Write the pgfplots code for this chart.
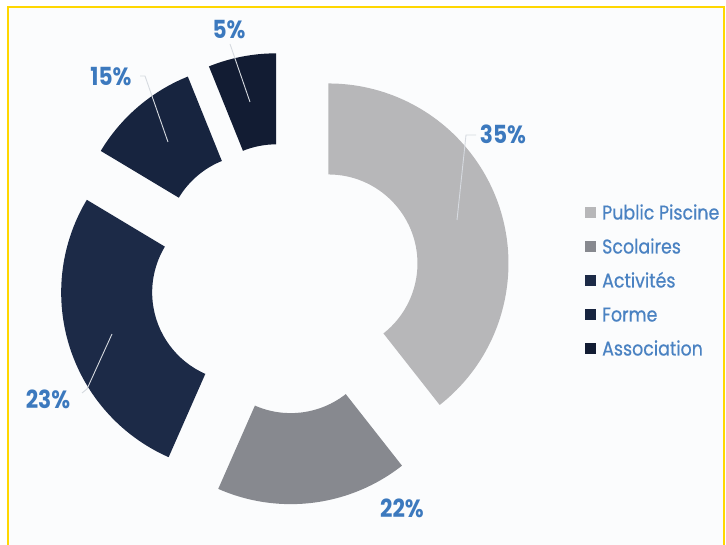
\documentclass[border=0pt]{standalone}
\usepackage{pgfplots}
\pgfplotsset{compat=1.18}
\usepackage{pgfplotstable}
\usepackage{fontspec}
\setmainfont{Poppins}
\newfontfamily\legfont{Poppins}[FakeBold=0.6]
\usetikzlibrary{calc}

\definecolor{sliceA}{HTML}{B7B7B9}
\definecolor{sliceB}{HTML}{87898F}
\definecolor{sliceC}{HTML}{1C2A47}
\definecolor{sliceD}{HTML}{17243F}
\definecolor{sliceE}{HTML}{121C33}
\definecolor{labblue}{HTML}{3C79BE}
\definecolor{legblue}{HTML}{4A82C2}
\definecolor{leader}{HTML}{D6DAE0}
\definecolor{frame}{HTML}{FFD700}
\definecolor{bg}{HTML}{FBFCFD}

% share = part of the ring actually drawn (%), label = number printed on the slice
\pgfplotstableread{
share label
39.4 35
17.2 22
27.0 23
10.3 15
6.1  5
}\slices

\begin{document}
\begin{tikzpicture}
% angles, clockwise from 12 o'clock
\def\acc{90}
\foreach \i/\n in {0/a,1/b,2/c,3/d,4/e}{
  \pgfplotstablegetelem{\i}{share}\of\slices
  \pgfmathsetmacro\hi{\acc}
  \pgfmathsetmacro\lo{\acc-3.6*\pgfplotsretval}
  \pgfmathsetmacro\mi{(\lo+\hi)/2}
  \expandafter\xdef\csname angS\n\endcsname{\lo}
  \expandafter\xdef\csname angE\n\endcsname{\hi}
  \expandafter\xdef\csname angM\n\endcsname{\mi}
  \pgfplotstablegetelem{\i}{label}\of\slices
  \expandafter\xdef\csname lab\n\endcsname{\pgfplotsretval}
  \xdef\acc{\lo}
}

\begin{axis}[
    width=726bp, height=545bp, scale only axis,
    xmin=0, xmax=726, ymin=0, ymax=545,
    hide axis
]
\fill[white] (axis cs:0,0) rectangle (axis cs:726,545);
\fill[bg] (axis cs:8,0) rectangle (axis cs:724,538);
\coordinate (O) at (axis cs:285,266.5);

% exploded doughnut, R=180, r=89, offset 46
\fill[sliceA] ($(O)+(\angMa:46bp)+(\angSa:180bp)$) arc[start angle=\angSa, end angle=\angEa, radius=180bp]
  -- ($(O)+(\angMa:46bp)+(\angEa:89bp)$) arc[start angle=\angEa, end angle=\angSa, radius=89bp] -- cycle;
\fill[sliceB] ($(O)+(\angMb:46bp)+(\angSb:180bp)$) arc[start angle=\angSb, end angle=\angEb, radius=180bp]
  -- ($(O)+(\angMb:46bp)+(\angEb:89bp)$) arc[start angle=\angEb, end angle=\angSb, radius=89bp] -- cycle;
\fill[sliceC] ($(O)+(\angMc:46bp)+(\angSc:180bp)$) arc[start angle=\angSc, end angle=\angEc, radius=180bp]
  -- ($(O)+(\angMc:46bp)+(\angEc:89bp)$) arc[start angle=\angEc, end angle=\angSc, radius=89bp] -- cycle;
\fill[sliceD] ($(O)+(\angMd:46bp)+(\angSd:180bp)$) arc[start angle=\angSd, end angle=\angEd, radius=180bp]
  -- ($(O)+(\angMd:46bp)+(\angEd:89bp)$) arc[start angle=\angEd, end angle=\angSd, radius=89bp] -- cycle;
\fill[sliceE] ($(O)+(\angMe:46bp)+(\angSe:180bp)$) arc[start angle=\angSe, end angle=\angEe, radius=180bp]
  -- ($(O)+(\angMe:46bp)+(\angEe:89bp)$) arc[start angle=\angEe, end angle=\angSe, radius=89bp] -- cycle;

% leader lines
\draw[leader, line width=0.9bp] (axis cs:457,325) -- (axis cs:466,410) -- (axis cs:476,410);
\draw[leader, line width=0.9bp] (axis cs:112,211) -- (axis cs:87,156) -- (axis cs:82,152);
\draw[leader, line width=0.9bp] (axis cs:168,403) -- (axis cs:145,469) -- (axis cs:140,469);
\draw[leader, line width=0.9bp] (axis cs:250,443) -- (axis cs:230,501);

% data labels
\tikzset{lab/.style={text=labblue, font=\bfseries\fontsize{25}{30}\selectfont, xscale=0.87, inner sep=0pt}}
\node[lab] at (axis cs:503,411) {\laba\%};
\node[lab] at (axis cs:402,37) {\labb\%};
\node[lab] at (axis cs:48,146) {\labc\%};
\node[lab] at (axis cs:111,468) {\labd\%};
\node[lab] at (axis cs:229,515) {\labe\%};

% legend
\tikzset{leg/.style={text=legblue, font=\legfont\fontsize{20}{24}\selectfont, xscale=0.875, inner sep=0pt, anchor=base west}}
\fill[sliceA] (axis cs:585,327.25) rectangle (axis cs:595.5,337.75);
\fill[sliceB] (axis cs:585,293.25) rectangle (axis cs:595.5,303.75);
\fill[sliceC] (axis cs:585,259.25) rectangle (axis cs:595.5,269.75);
\fill[sliceD] (axis cs:585,225.25) rectangle (axis cs:595.5,235.75);
\fill[sliceE] (axis cs:585,191.25) rectangle (axis cs:595.5,201.75);
\node[leg] at (axis cs:602,325.5) {Public Piscine};
\node[leg] at (axis cs:602,291.5) {Scolaires};
\node[leg] at (axis cs:602,257.5) {Activités};
\node[leg] at (axis cs:602,223.5) {Forme};
\node[leg] at (axis cs:602,189.5) {Association};

% frame
\draw[frame, line width=2.6bp] (axis cs:8,0) -- (axis cs:8,538) -- (axis cs:724,538) -- (axis cs:724,0);
\end{axis}
\end{tikzpicture}
\end{document}
